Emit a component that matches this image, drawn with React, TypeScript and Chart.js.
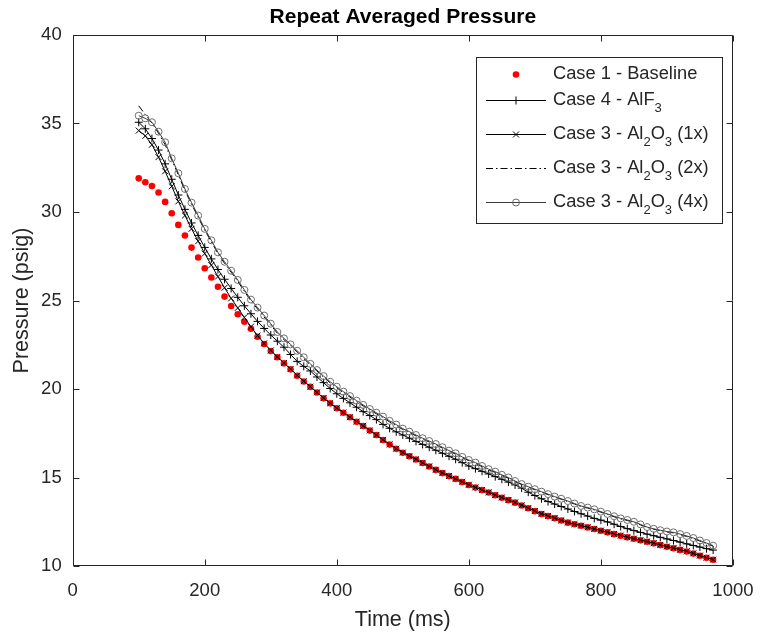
import React, { useEffect, useRef } from "react";
import { Chart, registerables } from "chart.js";

Chart.register(...registerables);

// ---------------- data ----------------
const TIME_MS = [
  100, 110, 120, 130, 140, 150, 160, 170, 180, 190,
  200, 210, 220, 230, 240, 250, 260, 270, 280, 290,
  300, 310, 320, 330, 340, 350, 360, 370, 380, 390,
  400, 410, 420, 430, 440, 450, 460, 470, 480, 490,
  500, 510, 520, 530, 540, 550, 560, 570, 580, 590,
  600, 610, 620, 630, 640, 650, 660, 670, 680, 690,
  700, 710, 720, 730, 740, 750, 760, 770, 780, 790,
  800, 810, 820, 830, 840, 850, 860, 870, 880, 890,
  900, 910, 920, 930, 940, 950, 960, 970,
];

const CASE1_BASELINE = [
  31.9, 31.68, 31.47, 31.1, 30.57, 29.93, 29.27, 28.67, 27.99, 27.43,
  26.82, 26.3, 25.78, 25.22, 24.69, 24.22, 23.8, 23.4, 22.95, 22.54,
  22.15, 21.79, 21.45, 21.11, 20.75, 20.42, 20.12, 19.8, 19.48, 19.19,
  18.91, 18.66, 18.4, 18.15, 17.91, 17.65, 17.4, 17.12, 16.86, 16.62,
  16.4, 16.2, 16.02, 15.82, 15.62, 15.43, 15.25, 15.08, 14.92, 14.75,
  14.58, 14.43, 14.29, 14.15, 14.0, 13.86, 13.72, 13.58, 13.42, 13.26,
  13.1, 12.94, 12.82, 12.7, 12.57, 12.45, 12.36, 12.27, 12.18, 12.09,
  11.99, 11.9, 11.8, 11.71, 11.62, 11.54, 11.45, 11.37, 11.28, 11.18,
  11.09, 11.0, 10.91, 10.82, 10.7, 10.58, 10.46, 10.35,
];

const CASE4_ALF3 = [
  35.07, 34.7, 34.15, 33.5, 32.72, 31.85, 30.96, 30.15, 29.38, 28.68,
  28.0, 27.35, 26.75, 26.2, 25.68, 25.18, 24.7, 24.25, 23.82, 23.42,
  23.05, 22.7, 22.36, 21.95, 21.56, 21.28, 21.02, 20.68, 20.36, 20.03,
  19.73, 19.47, 19.22, 18.97, 18.72, 18.5, 18.27, 18.0, 17.78, 17.58,
  17.4, 17.22, 17.04, 16.87, 16.71, 16.54, 16.37, 16.2, 16.03, 15.84,
  15.65, 15.5, 15.35, 15.2, 15.05, 14.9, 14.74, 14.58, 14.4, 14.17,
  13.98, 13.8, 13.64, 13.5, 13.36, 13.22, 13.08, 12.95, 12.82, 12.69,
  12.59, 12.49, 12.36, 12.23, 12.11, 12.0, 11.9, 11.8, 11.71, 11.62,
  11.53, 11.44, 11.35, 11.25, 11.16, 11.07, 10.98, 10.9,
];

const CASE3_AL2O3_1X = [
  34.6, 34.3, 33.8, 33.1, 32.3, 31.45, 30.6, 29.8, 29.05, 28.35,
  27.65, 27.0, 26.35, 25.72, 25.12, 24.58, 24.05, 23.52, 23.02, 22.58,
  22.18, 21.81, 21.47, 21.13, 20.77, 20.44, 20.13, 19.81, 19.49, 19.2,
  18.92, 18.67, 18.41, 18.16, 17.92, 17.66, 17.4, 17.13, 16.87, 16.63,
  16.41, 16.21, 16.03, 15.83, 15.63, 15.44, 15.26, 15.09, 14.93, 14.76,
  14.59, 14.44, 14.3, 14.16, 14.01, 13.87, 13.73, 13.59, 13.43, 13.27,
  13.11, 12.95, 12.83, 12.71, 12.58, 12.46, 12.37, 12.28, 12.19, 12.1,
  12.0, 11.91, 11.81, 11.72, 11.63, 11.55, 11.46, 11.38, 11.29, 11.19,
  11.1, 11.01, 10.92, 10.83, 10.71, 10.59, 10.47, 10.36,
];

const CASE3_AL2O3_2X = [
  36.0, 35.5, 35.02, 34.45, 33.8, 32.95, 32.1, 31.2, 30.45, 29.7,
  28.97, 28.32, 27.65, 27.1, 26.6, 26.08, 25.52, 24.97, 24.52, 24.07,
  23.61, 23.15, 22.79, 22.45, 22.09, 21.72, 21.36, 21.01, 20.67, 20.35,
  20.07, 19.79, 19.54, 19.28, 19.04, 18.81, 18.6, 18.38, 18.14, 17.93,
  17.71, 17.54, 17.35, 17.17, 17.01, 16.84, 16.66, 16.48, 16.32, 16.12,
  15.95, 15.8, 15.61, 15.43, 15.29, 15.11, 14.96, 14.77, 14.6, 14.45,
  14.31, 14.17, 14.03, 13.89, 13.77, 13.64, 13.5, 13.36, 13.27, 13.17,
  13.04, 12.91, 12.78, 12.66, 12.57, 12.47, 12.32, 12.18, 12.08, 12.0,
  11.92, 11.87, 11.77, 11.67, 11.55, 11.41, 11.27, 11.12,
];

const CASE3_AL2O3_4X = [
  35.44, 35.29, 35.07, 34.54, 33.94, 33.03, 32.19, 31.3, 30.53, 29.8,
  29.05, 28.4, 27.72, 27.19, 26.68, 26.16, 25.6, 25.05, 24.6, 24.15,
  23.69, 23.22, 22.86, 22.52, 22.16, 21.79, 21.42, 21.07, 20.73, 20.41,
  20.13, 19.85, 19.6, 19.34, 19.1, 18.87, 18.66, 18.44, 18.2, 17.99,
  17.76, 17.59, 17.4, 17.22, 17.06, 16.89, 16.71, 16.52, 16.37, 16.16,
  15.99, 15.84, 15.65, 15.47, 15.33, 15.15, 15.0, 14.8, 14.63, 14.48,
  14.34, 14.2, 14.06, 13.92, 13.8, 13.67, 13.53, 13.39, 13.3, 13.2,
  13.07, 12.94, 12.81, 12.69, 12.6, 12.5, 12.35, 12.2, 12.1, 12.02,
  11.95, 11.9, 11.8, 11.7, 11.58, 11.44, 11.3, 11.15,
];

const X_TICKS = [0, 200, 400, 600, 800, 1000];
const Y_TICKS = [10, 15, 20, 25, 30, 35, 40];

const SERIES_LABELS = [
  "Case 1 - Baseline",
  "Case 4 - AlF\u2083",
  "Case 3 - Al\u2082O\u2083 (1x)",
  "Case 3 - Al\u2082O\u2083 (2x)",
  "Case 3 - Al\u2082O\u2083 (4x)",
];

// legend text with subscript segments
const LEGEND_TEXT = [
  [{ t: "Case 1 - Baseline" }],
  [{ t: "Case 4 - AlF" }, { t: "3", sub: true }],
  [{ t: "Case 3 - Al" }, { t: "2", sub: true }, { t: "O" }, { t: "3", sub: true }, { t: " (1x)" }],
  [{ t: "Case 3 - Al" }, { t: "2", sub: true }, { t: "O" }, { t: "3", sub: true }, { t: " (2x)" }],
  [{ t: "Case 3 - Al" }, { t: "2", sub: true }, { t: "O" }, { t: "3", sub: true }, { t: " (4x)" }],
];

// ---------------- styling ----------------
const FONT = '"Liberation Sans", Arial, Helvetica, sans-serif';
const AXIS_COLOR = "#262626";
const TICK_FONT_SIZE = 18.5;
const LEGEND_FONT_SIZE = 18.3;
const LABEL_FONT_SIZE = 21.5;

const toPoints = (ys: number[]) => TIME_MS.map((x, i) => ({ x, y: ys[i] }));

function drawMarker(ctx: CanvasRenderingContext2D, kind: string, x: number, y: number) {
  ctx.save();
  ctx.lineWidth = 1;
  if (kind === "dot") {
    ctx.fillStyle = "#ff0000";
    ctx.beginPath();
    ctx.arc(x, y, 3.3, 0, Math.PI * 2);
    ctx.fill();
  } else if (kind === "cross") {
    ctx.strokeStyle = "#000";
    ctx.beginPath();
    ctx.moveTo(x - 4, y);
    ctx.lineTo(x + 4, y);
    ctx.moveTo(x, y - 4);
    ctx.lineTo(x, y + 4);
    ctx.stroke();
  } else if (kind === "crossRot") {
    ctx.strokeStyle = "#000";
    const d = 3;
    ctx.beginPath();
    ctx.moveTo(x - d, y - d);
    ctx.lineTo(x + d, y + d);
    ctx.moveTo(x - d, y + d);
    ctx.lineTo(x + d, y - d);
    ctx.stroke();
  } else if (kind === "circle") {
    ctx.strokeStyle = "#6e6e6e";
    ctx.beginPath();
    ctx.arc(x, y, 3.5, 0, Math.PI * 2);
    ctx.stroke();
  }
  ctx.restore();
}

const LEGEND_STYLE = [
  { line: null, dash: [], marker: "dot", color: "#000" },
  { line: true, dash: [], marker: "cross", color: "#000" },
  { line: true, dash: [], marker: "crossRot", color: "#000" },
  { line: true, dash: [7, 3, 1.5, 3], marker: null, color: "#000" },
  { line: true, dash: [], marker: "circle", color: "#3a3a3a" },
];

const boxPlugin = {
  id: "matlabBox",
  afterDatasetsDraw(chart: any) {
    const { ctx, chartArea: a, scales } = chart;
    const xs = scales.x;
    const ys = scales.y;
    const L = Math.round(a.left) + 0.5;
    const R = Math.round(a.right) - 0.5;
    const T = Math.round(a.top) + 0.5;
    const B = Math.round(a.bottom) - 0.5;
    ctx.save();
    ctx.strokeStyle = AXIS_COLOR;
    ctx.lineWidth = 1;
    ctx.beginPath();
    ctx.rect(L, T, R - L, B - T);
    ctx.stroke();
    const tl = 6;
    ctx.beginPath();
    X_TICKS.forEach((v) => {
      const px = Math.round(xs.getPixelForValue(v)) + 0.5;
      ctx.moveTo(px, B);
      ctx.lineTo(px, B - tl);
      ctx.moveTo(px, T);
      ctx.lineTo(px, T + tl);
    });
    Y_TICKS.forEach((v) => {
      const py = Math.round(ys.getPixelForValue(v)) + 0.5;
      ctx.moveTo(L, py);
      ctx.lineTo(L + tl, py);
      ctx.moveTo(R, py);
      ctx.lineTo(R - tl, py);
    });
    ctx.stroke();
    ctx.restore();
  },
};

const legendPlugin = {
  id: "matlabLegend",
  afterDraw(chart: any) {
    const { ctx } = chart;
    const left = 476.5;
    const top = 57.5;
    const right = 722.5;
    const bottom = 223.5;
    const rowY = [74, 99.5, 133.5, 167.5, 201.5];
    ctx.save();
    ctx.fillStyle = "#ffffff";
    ctx.fillRect(left, top, right - left, bottom - top);
    ctx.strokeStyle = AXIS_COLOR;
    ctx.lineWidth = 1;
    ctx.strokeRect(left, top, right - left, bottom - top);

    LEGEND_TEXT.forEach((parts, i) => {
      const y = rowY[i];
      const st = LEGEND_STYLE[i];
      if (st.line) {
        ctx.save();
        ctx.strokeStyle = st.color;
        ctx.lineWidth = 1;
        ctx.setLineDash(st.dash);
        ctx.beginPath();
        ctx.moveTo(486, Math.round(y) + 0.5);
        ctx.lineTo(546, Math.round(y) + 0.5);
        ctx.stroke();
        ctx.restore();
      }
      if (st.marker) drawMarker(ctx, st.marker, 516, Math.round(y) + 0.5);

      let x = 553;
      ctx.fillStyle = AXIS_COLOR;
      ctx.textBaseline = "middle";
      ctx.textAlign = "left";
      parts.forEach((p: any) => {
        if (p.sub) {
          ctx.font = `13px ${FONT}`;
          ctx.fillText(p.t, x, y + 8.5);
        } else {
          ctx.font = `${LEGEND_FONT_SIZE}px ${FONT}`;
          ctx.fillText(p.t, x, y);
        }
        x += ctx.measureText(p.t).width;
      });
    });
    ctx.restore();
  },
};

export default function App() {
  const canvasRef = useRef<HTMLCanvasElement | null>(null);

  useEffect(() => {
    document.body.style.margin = "0";
    const canvas = canvasRef.current;
    if (!canvas) return;

    const chart = new Chart(canvas, {
      type: "line",
      data: {
        datasets: [
          {
            label: SERIES_LABELS[0],
            data: toPoints(CASE1_BASELINE),
            showLine: false,
            pointStyle: "circle",
            pointRadius: 3.3,
            pointBackgroundColor: "#ff0000",
            pointBorderColor: "#ff0000",
            pointBorderWidth: 0,
            borderColor: "#ff0000",
            backgroundColor: "#ff0000",
            order: 5,
          },
          {
            label: SERIES_LABELS[1],
            data: toPoints(CASE4_ALF3),
            borderColor: "#000000",
            borderWidth: 1,
            pointStyle: "cross",
            pointRadius: 4,
            pointBorderColor: "#000000",
            pointBorderWidth: 1,
            tension: 0,
            order: 4,
          },
          {
            label: SERIES_LABELS[2],
            data: toPoints(CASE3_AL2O3_1X),
            borderColor: "#000000",
            borderWidth: 1,
            pointStyle: "crossRot",
            pointRadius: 4.2,
            pointBorderColor: "#000000",
            pointBorderWidth: 1,
            tension: 0,
            order: 3,
          },
          {
            label: SERIES_LABELS[3],
            data: toPoints(CASE3_AL2O3_2X),
            borderColor: "#000000",
            borderWidth: 1,
            borderDash: [7, 3, 1.5, 3],
            pointRadius: 0,
            tension: 0,
            order: 2,
          },
          {
            label: SERIES_LABELS[4],
            data: toPoints(CASE3_AL2O3_4X),
            borderColor: "#3a3a3a",
            borderWidth: 1,
            pointStyle: "circle",
            pointRadius: 3.5,
            pointBorderColor: "#6e6e6e",
            pointBackgroundColor: "rgba(0,0,0,0)",
            pointBorderWidth: 1,
            tension: 0,
            order: 1,
          },
        ],
      },
      options: {
        responsive: false,
        maintainAspectRatio: false,
        animation: false,
        layout: { padding: { top: 0, right: 25, bottom: 0, left: 0 } },
        plugins: {
          legend: { display: false },
          tooltip: { enabled: false },
          title: {
            display: true,
            text: "Repeat Averaged Pressure",
            fullSize: false,
            color: "#000000",
            font: { family: FONT, size: 21, weight: "bold", lineHeight: 1.2 },
            padding: { top: 5, bottom: 4.8 },
          },
        },
        scales: {
          x: {
            type: "linear",
            min: 0,
            max: 1000,
            afterBuildTicks: (s: any) => {
              s.ticks = X_TICKS.map((v) => ({ value: v }));
            },
            afterFit: (s: any) => {
              s.height = 67;
            },
            grid: { display: false, drawTicks: false },
            border: { display: false },
            ticks: {
              color: AXIS_COLOR,
              padding: 13.5,
              maxRotation: 0,
              autoSkip: false,
              font: { family: FONT, size: TICK_FONT_SIZE },
              callback: (v: any) => String(v),
            },
            title: {
              display: true,
              text: "Time (ms)",
              color: AXIS_COLOR,
              font: { family: FONT, size: LABEL_FONT_SIZE, lineHeight: 1.2 },
              padding: { top: 0, bottom: 0 },
            },
          },
          y: {
            type: "linear",
            min: 10,
            max: 40,
            afterBuildTicks: (s: any) => {
              s.ticks = Y_TICKS.map((v) => ({ value: v }));
            },
            afterFit: (s: any) => {
              s.width = 72.7;
            },
            grid: { display: false, drawTicks: false },
            border: { display: false },
            ticks: {
              color: AXIS_COLOR,
              padding: 11,
              autoSkip: false,
              font: { family: FONT, size: TICK_FONT_SIZE },
              callback: (v: any) => String(v),
            },
            title: {
              display: true,
              text: "Pressure (psig)",
              color: AXIS_COLOR,
              font: { family: FONT, size: LABEL_FONT_SIZE, lineHeight: 1.2 },
              padding: { top: 9, bottom: 0 },
            },
          },
        },
      },
      plugins: [boxPlugin, legendPlugin],
    } as any);

    return () => {
      chart.destroy();
    };
  }, []);

  return (
    <div style={{ position: "fixed", left: 0, top: 0, width: 767, height: 633, background: "#fff" }}>
      <canvas ref={canvasRef} width={767} height={633} style={{ width: 767, height: 633 }} />
    </div>
  );
}
